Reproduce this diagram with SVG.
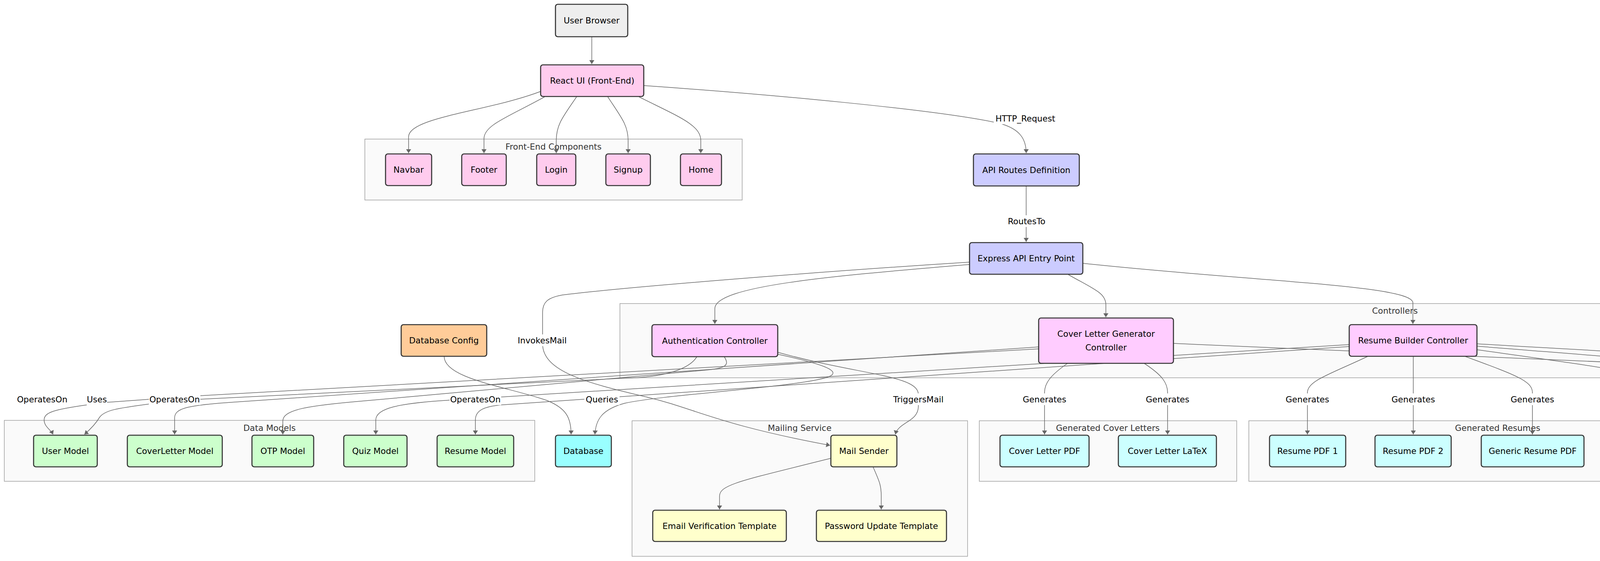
<svg xmlns="http://www.w3.org/2000/svg" width="5644" height="1436" viewBox="0 0 5644 1436">
<style>
text { font-family: "DejaVu Sans", Verdana, sans-serif; font-size: 21.5px; dominant-baseline: central; text-anchor: middle; }
.cl rect { fill: #fafafa; stroke: #999; stroke-width: 1.4; }
.cl text { fill: #333; }
.node rect { stroke: #333; stroke-width: 2.7; }
.node text { fill: #000; }
.fe { fill: #ffccee; }
.api { fill: #ccccff; }
.ctl { fill: #ffccff; }
.dm { fill: #ccffcc; }
.ml { fill: #ffffcc; }
.gen { fill: #ccffff; }
.dbg { fill: #ffcccc; }
#edges path { fill: none; stroke: #666; stroke-width: 1.5; marker-end: url(#arr); }
.lbl rect { fill: #fff; }
.lbl text { fill: #000; }
</style>
<defs>
<marker id="arr" viewBox="0 0 10 13" refX="10" refY="6.5" markerWidth="10" markerHeight="13" markerUnits="userSpaceOnUse" orient="auto"><path d="M0,0 L10,6.5 L0,13 z" fill="#666"/></marker>
</defs>
<rect width="5644" height="1436" fill="#fff"/>

<g id="clusters">
<g id="cluster-frontend" class="cl"><rect x="934" y="356" width="966" height="156"/><text x="1417" y="375">Front-End Components</text></g>
<g id="cluster-controllers" class="cl"><rect x="1587" y="777" width="3968" height="190"/><text x="3571" y="795">Controllers</text></g>
<g id="cluster-datamodels" class="cl"><rect x="11" y="1076" width="1358" height="156"/><text x="690" y="1095">Data Models</text></g>
<g id="cluster-mailing" class="cl"><rect x="1618" y="1077" width="859" height="347"/><text x="2047" y="1095">Mailing Service</text></g>
<g id="cluster-gencl" class="cl"><rect x="2507" y="1077" width="659" height="155"/><text x="2836" y="1095">Generated Cover Letters</text></g>
<g id="cluster-genres" class="cl"><rect x="3197" y="1077" width="1275" height="155"/><text x="3834" y="1095">Generated Resumes</text></g>
<g id="cluster-debug" class="cl"><rect x="4502" y="1077" width="1129" height="155"/><text x="5066" y="1095">Debug Controllers</text></g>
</g>

<g id="edges">
<path d="M1515,94 L1515,164"/>
<path d="M1384,234 C1250,285 1046,300 1046,350 L1046,392"/>
<path d="M1394,248 C1300,300 1239,320 1239,355 L1239,392"/>
<path d="M1476,248 C1440,300 1424,320 1424,360 L1424,392"/>
<path d="M1556,248 C1590,300 1608,320 1608,360 L1608,392"/>
<path d="M1636,248 C1740,300 1794,320 1794,360 L1794,392"/>
<path d="M1648,219 C1950,240 2400,280 2560,316 C2610,330 2627,355 2627,392"/>
<path d="M2627,476 L2627,619"/>
<path d="M2482,677 C2150,705 1830,730 1830,790 L1830,829"/>
<path d="M2735,703 C2800,740 2831,750 2831,780 L2831,812"/>
<path d="M2772,674 C3200,720 3617,730 3617,775 L3617,829"/>
<path d="M2482,671 C2100,695 1600,735 1440,755 C1400,762 1389,775 1389,800 L1389,880 C1389,950 1500,980 1650,1015 C1780,1045 1830,1085 2125,1140"/>
<path d="M1992,902 C2200,960 2351,960 2351,1010 L2351,1040 C2351,1080 2300,1080 2292,1112"/>
<path d="M1992,907 C2100,930 2160,950 2120,965 C2050,990 1700,1010 1600,1032 C1540,1048 1525,1075 1523,1112"/>
<path d="M1137,912 C1137,970 1300,990 1400,1025 C1450,1045 1462,1070 1462,1112"/>
<path d="M1784,913 C1765,945 1700,966 1600,968 L511,1022 L383,1022 L272,1030 L225,1036 C140,1048 113,1055 113,1075 C113,1092 130,1100 136,1112"/>
<path d="M1854,913 C1868,935 1860,943 1800,948 L900,1029 C780,1040 724,1050 724,1078 L724,1112"/>
<path d="M2659,893 L511,1013 L383,1034 C300,1045 268,1050 255,1068 C245,1085 230,1100 216,1112"/>
<path d="M2659,888 L589,1030 C480,1037.5 447,1045 447,1070 L447,1112"/>
<path d="M3454,882 L1155,1024 C1020,1032 962,1045 962,1075 L962,1112"/>
<path d="M3454,887 L1290,1036 C1240,1039.4 1217,1050 1217,1075 L1217,1112"/>
<path d="M2733,930 C2690,960 2674,980 2674,1005 L2674,1112"/>
<path d="M2929,930 C2975,960 2989,980 2989,1005 L2989,1112"/>
<path d="M3502,912 C3400,960 3347,975 3347,1005 L3347,1112"/>
<path d="M3618,912 L3618,1112"/>
<path d="M3750,912 C3880,960 3923,975 3923,1005 L3923,1112"/>
<path d="M3780,895 C4100,940 4275,960 4275,1005 L4275,1112"/>
<path d="M3780,886 C4200,920 4550,945 4650,970 C4700,985 4711,995 4711,1012 L4711,1112"/>
<path d="M3004,879 L4700,952 C5000,965 5094,985 5094,1015 L5094,1112"/>
<path d="M3780,880 C4500,922 5300,960 5400,980 C5440,990 5450,1000 5450,1015 L5450,1112"/>
<path d="M2127,1173 C1900,1230 1842,1240 1842,1270 L1842,1304"/>
<path d="M2235,1195 C2250,1230 2256,1240 2256,1270 L2256,1304"/>
</g>

<g id="edge-labels">
<g class="lbl"><rect x="2544" y="288" width="162" height="30"/><text x="2625" y="303">HTTP_Request</text></g>
<g class="lbl"><rect x="2574" y="551" width="108" height="30"/><text x="2628" y="566">RoutesTo</text></g>
<g class="lbl"><rect x="1321" y="856" width="134" height="30"/><text x="1388" y="871">InvokesMail</text></g>
<g class="lbl"><rect x="40" y="1007" width="136" height="30"/><text x="108" y="1022">OperatesOn</text></g>
<g class="lbl"><rect x="222" y="1007" width="52" height="30"/><text x="248" y="1022">Uses</text></g>
<g class="lbl"><rect x="381" y="1007" width="132" height="30"/><text x="447" y="1022">OperatesOn</text></g>
<g class="lbl"><rect x="1151" y="1007" width="132" height="30"/><text x="1217" y="1022">OperatesOn</text></g>
<g class="lbl"><rect x="1496" y="1007" width="90" height="30"/><text x="1541" y="1022">Queries</text></g>
<g class="lbl"><rect x="2281" y="1007" width="140" height="30"/><text x="2351" y="1022">TriggersMail</text></g>
<g class="lbl"><rect x="2614.5" y="1007" width="119" height="30"/><text x="2674" y="1022">Generates</text></g>
<g class="lbl"><rect x="2929.5" y="1007" width="119" height="30"/><text x="2989" y="1022">Generates</text></g>
<g class="lbl"><rect x="3287.5" y="1007" width="119" height="30"/><text x="3347" y="1022">Generates</text></g>
<g class="lbl"><rect x="3558.5" y="1007" width="119" height="30"/><text x="3618" y="1022">Generates</text></g>
<g class="lbl"><rect x="3863.5" y="1007" width="119" height="30"/><text x="3923" y="1022">Generates</text></g>
<g class="lbl"><rect x="4215.5" y="1007" width="119" height="30"/><text x="4275" y="1022">Generates</text></g>
<g class="lbl"><rect x="4682.5" y="1007" width="57" height="30"/><text x="4711" y="1022">Logs</text></g>
<g class="lbl"><rect x="5065.5" y="1007" width="57" height="30"/><text x="5094" y="1022">Logs</text></g>
<g class="lbl"><rect x="5421.5" y="1007" width="57" height="30"/><text x="5450" y="1022">Logs</text></g>
</g>

<g id="nodes">
<g id="user-browser" class="node"><rect x="1422" y="11" width="185" height="83" rx="6" fill="#eeeeee"/><text x="1514.5" y="52.5">User Browser</text></g>
<g id="react-ui" class="node"><rect x="1384" y="166" width="264" height="81" rx="6" class="fe"/><text x="1516" y="206.5">React UI (Front-End)</text></g>
<g id="navbar" class="node"><rect x="987" y="394" width="118" height="81" rx="6" class="fe"/><text x="1046" y="434.5">Navbar</text></g>
<g id="footer" class="node"><rect x="1182" y="394" width="114" height="81" rx="6" class="fe"/><text x="1239" y="434.5">Footer</text></g>
<g id="login" class="node"><rect x="1374" y="394" width="100" height="81" rx="6" class="fe"/><text x="1424" y="434.5">Login</text></g>
<g id="signup" class="node"><rect x="1551" y="394" width="114" height="81" rx="6" class="fe"/><text x="1608" y="434.5">Signup</text></g>
<g id="home" class="node"><rect x="1742" y="394" width="105" height="81" rx="6" class="fe"/><text x="1794.5" y="434.5">Home</text></g>
<g id="api-routes" class="node"><rect x="2492" y="394" width="271" height="82" rx="6" class="api"/><text x="2627.5" y="435">API Routes Definition</text></g>
<g id="express" class="node"><rect x="2482" y="621" width="290" height="81" rx="6" class="api"/><text x="2627" y="661.5">Express API Entry Point</text></g>
<g id="auth-controller" class="node"><rect x="1669" y="831" width="322" height="82" rx="6" class="ctl"/><text x="1830" y="872">Authentication Controller</text></g>
<g id="coverletter-controller" class="node"><rect x="2659" y="814" width="345" height="116" rx="6" class="ctl"/><text x="2831.5" y="854.5">Cover Letter Generator</text><text x="2831.5" y="889.5">Controller</text></g>
<g id="resume-controller" class="node"><rect x="3454" y="831" width="327" height="81" rx="6" class="ctl"/><text x="3617.5" y="871.5">Resume Builder Controller</text></g>
<g id="database-config" class="node"><rect x="1027" y="831" width="219" height="81" rx="6" fill="#ffcc99"/><text x="1136.5" y="871.5">Database Config</text></g>
<g id="user-model" class="node"><rect x="86" y="1114" width="163" height="81" rx="6" class="dm"/><text x="167.5" y="1154.5">User Model</text></g>
<g id="coverletter-model" class="node"><rect x="326" y="1114" width="243" height="81" rx="6" class="dm"/><text x="447.5" y="1154.5">CoverLetter Model</text></g>
<g id="otp-model" class="node"><rect x="645" y="1114" width="158" height="81" rx="6" class="dm"/><text x="724" y="1154.5">OTP Model</text></g>
<g id="quiz-model" class="node"><rect x="880" y="1114" width="162" height="81" rx="6" class="dm"/><text x="961" y="1154.5">Quiz Model</text></g>
<g id="resume-model" class="node"><rect x="1119" y="1114" width="196" height="81" rx="6" class="dm"/><text x="1217" y="1154.5">Resume Model</text></g>
<g id="database" class="node"><rect x="1422" y="1114" width="143" height="81" rx="6" fill="#99ffff"/><text x="1493.5" y="1154.5">Database</text></g>
<g id="mail-sender" class="node"><rect x="2127" y="1114" width="169" height="81" rx="6" class="ml"/><text x="2211.5" y="1154.5">Mail Sender</text></g>
<g id="email-template" class="node"><rect x="1671" y="1306" width="342" height="80" rx="6" class="ml"/><text x="1842" y="1346">Email Verification Template</text></g>
<g id="password-template" class="node"><rect x="2090" y="1306" width="333" height="80" rx="6" class="ml"/><text x="2256.5" y="1346">Password Update Template</text></g>
<g id="cl-pdf" class="node"><rect x="2560" y="1114" width="228" height="81" rx="6" class="gen"/><text x="2674" y="1154.5">Cover Letter PDF</text></g>
<g id="cl-latex" class="node"><rect x="2863" y="1114" width="251" height="81" rx="6" class="gen"/><text x="2988.5" y="1154.5">Cover Letter LaTeX</text></g>
<g id="resume-pdf1" class="node"><rect x="3250" y="1114" width="195" height="81" rx="6" class="gen"/><text x="3347.5" y="1154.5">Resume PDF 1</text></g>
<g id="resume-pdf2" class="node"><rect x="3520" y="1114" width="195" height="81" rx="6" class="gen"/><text x="3617.5" y="1154.5">Resume PDF 2</text></g>
<g id="generic-pdf" class="node"><rect x="3792" y="1114" width="263" height="81" rx="6" class="gen"/><text x="3923.5" y="1154.5">Generic Resume PDF</text></g>
<g id="generic-latex" class="node"><rect x="4133" y="1114" width="286" height="81" rx="6" class="gen"/><text x="4276" y="1154.5">Generic Resume LaTeX</text></g>
<g id="debug-cl-tex" class="node"><rect x="4557" y="1114" width="308" height="81" rx="6" class="dbg"/><text x="4711" y="1154.5">Debug: Cover Letter TEX</text></g>
<g id="debug-latex-log" class="node"><rect x="4943" y="1114" width="302" height="81" rx="6" class="dbg"/><text x="5094" y="1154.5">Debug: LaTeX Errors Log</text></g>
<g id="debug-resume-tex" class="node"><rect x="5323" y="1114" width="256" height="81" rx="6" class="dbg"/><text x="5451" y="1154.5">Debug: Resume TEX</text></g>
</g>
</svg>
